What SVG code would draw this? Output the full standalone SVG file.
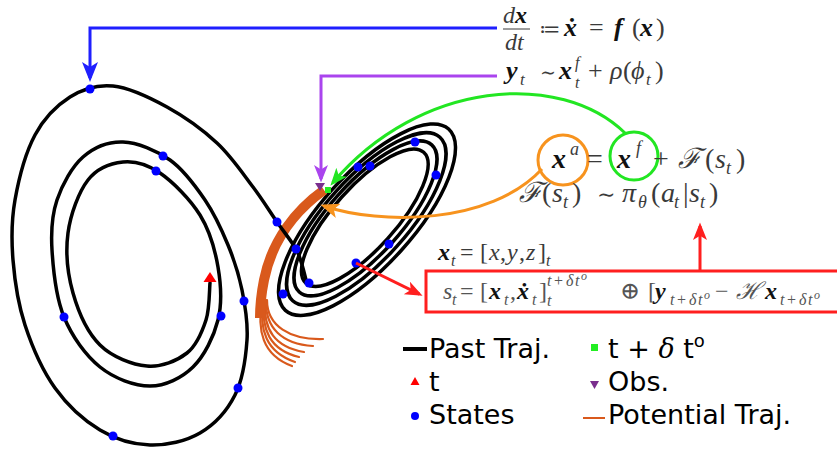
<svg xmlns="http://www.w3.org/2000/svg" width="837" height="451" viewBox="0 0 837 451">
<style>
.traj{fill:none;stroke:#000;stroke-width:3.5;stroke-linecap:round}
.dot{fill:#0000ff}
.orng{fill:none;stroke:#d9591c;stroke-width:2.2;stroke-linecap:round}
.m{font-family:"Liberation Serif","DejaVu Serif",serif;fill:#3a3a3a}
.bi{font-weight:bold;font-style:italic;fill:#111}
.it{font-style:italic}
.lg{font-family:"DejaVu Sans",sans-serif;font-size:27px;fill:#000}
</style>
<defs>
<marker id="ab" viewBox="0 0 20 16" refX="16" refY="8" markerWidth="20" markerHeight="16" markerUnits="userSpaceOnUse" orient="auto"><path d="M0,0 L20,8 L0,16 L5,8 Z" fill="#1f1fff"/></marker>
<marker id="ap" viewBox="0 0 20 16" refX="16" refY="8" markerWidth="18" markerHeight="14" markerUnits="userSpaceOnUse" orient="auto"><path d="M0,0 L20,8 L0,16 L5,8 Z" fill="#aa44ee"/></marker>
<marker id="ag" viewBox="0 0 20 16" refX="16" refY="8" markerWidth="18" markerHeight="14" markerUnits="userSpaceOnUse" orient="auto"><path d="M0,0 L20,8 L0,16 L5,8 Z" fill="#22e622"/></marker>
<marker id="ao" viewBox="0 0 20 16" refX="16" refY="8" markerWidth="19" markerHeight="15" markerUnits="userSpaceOnUse" orient="auto"><path d="M0,0 L20,8 L0,16 L5,8 Z" fill="#f7931e"/></marker>
<marker id="ar" viewBox="0 0 20 16" refX="16" refY="8" markerWidth="19" markerHeight="14" markerUnits="userSpaceOnUse" orient="auto"><path d="M0,0 L20,8 L0,16 L5,8 Z" fill="#ff1f1f"/></marker>
</defs>

<g id="attractor-right">
<ellipse class="traj" cx="367" cy="219.7" rx="122" ry="46" transform="rotate(-48 367 219.7)"/>
<ellipse class="traj" cx="366.3" cy="219" rx="110" ry="41" transform="rotate(-48 366.3 219)"/>
<ellipse class="traj" cx="365.5" cy="218.4" rx="99" ry="36" transform="rotate(-48 365.5 218.4)"/>
<ellipse class="traj" cx="364.8" cy="217.7" rx="88" ry="31" transform="rotate(-48 364.8 217.7)"/>
</g>

<g id="potential">
<path class="orng" d="M262,300 C257,330 262,355 292,366"/>
<path class="orng" d="M263,300 C259,330 266,352 295,362"/>
<path class="orng" d="M264,300 C261,330 270,350 299,357"/>
<path class="orng" d="M265,300 C263,330 275,347 304,352"/>
<path class="orng" d="M266,300 C265,328 282,344 313,346"/>
<path class="orng" d="M267,300 C267,326 290,340 323,339"/>
<path d="M324,190 C296,210 272,240 264,280 C261,295 260,306 260,318" fill="none" stroke="#d9591c" stroke-width="10"/>
</g>

<g id="attractor-left">
<path class="traj" d="M306,280 C304,272 300.7,257 296,249 C291.3,241 284.2,232.3 277,222 C269.8,211.7 263,200.2 253,187 C243,173.8 231.3,156.3 217,143 C202.7,129.7 184.3,116.5 167,107 C149.7,97.5 129.2,87.7 113,86 C96.8,84.3 83,88.8 70,97 C57,105.2 44.2,117.8 35,135 C25.8,152.2 18.7,179.2 15,200 C11.3,220.8 11.3,239.2 13,260 C14.7,280.8 18,303.7 25,325 C32,346.3 42.5,370.5 55,388 C67.5,405.5 84.2,420.5 100,430 C115.8,439.5 133.3,444.5 150,445 C166.7,445.5 185.8,441.3 200,433 C214.2,424.7 227.2,410.5 235,395 C242.8,379.5 245.8,357.5 247,340 C248.2,322.5 245.2,305.8 242,290 C238.8,274.2 234.2,260 228,245 C221.8,230 214.7,214.2 205,200 C195.3,185.8 183.7,169.7 170,160 C156.3,150.3 137.5,142.5 123,142 C108.5,141.5 94,147.3 83,157 C72,166.7 62.2,184.5 57,200 C51.8,215.5 50.8,230.5 52,250 C53.2,269.5 56,297.5 64,317 C72,336.5 85.7,355.5 100,367 C114.3,378.5 134.5,386 150,386 C165.5,386 181.7,378 193,367 C204.3,356 213.8,336.7 218,320 C222.2,303.3 221,284.5 218,267 C215,249.5 209.7,230.7 200,215 C190.3,199.3 172.8,181.8 160,173 C147.2,164.2 135,160.8 123,162 C111,163.2 97.2,168.2 88,180 C78.8,191.8 70.5,214.2 68,233 C65.5,251.8 67.7,274.3 73,293 C78.3,311.7 87.7,332.8 100,345 C112.3,357.2 132.5,364.7 147,366 C161.5,367.3 177.2,360.7 187,353 C196.8,345.3 202.2,331.7 206,320 C209.8,308.3 209.3,289.2 210,283"/>
</g>

<g id="states">
<circle class="dot" cx="90" cy="89" r="4.5"/>
<circle class="dot" cx="277" cy="222" r="4.5"/>
<circle class="dot" cx="163" cy="156" r="4.5"/>
<circle class="dot" cx="156" cy="171" r="4.5"/>
<circle class="dot" cx="244" cy="301" r="4.5"/>
<circle class="dot" cx="221" cy="316" r="4.5"/>
<circle class="dot" cx="64" cy="317" r="4.5"/>
<circle class="dot" cx="238" cy="388" r="4.5"/>
<circle class="dot" cx="113" cy="436" r="4.5"/>
<circle class="dot" cx="296" cy="249" r="4.5"/>
<circle class="dot" cx="415" cy="142" r="4.5"/>
<circle class="dot" cx="436" cy="175" r="4.5"/>
<circle class="dot" cx="358" cy="167" r="4.5"/>
<circle class="dot" cx="370" cy="166" r="4.5"/>
<circle class="dot" cx="389" cy="244" r="4.5"/>
<circle class="dot" cx="356" cy="263" r="4.5"/>
<circle class="dot" cx="309" cy="283" r="4.5"/>
<circle class="dot" cx="283" cy="294" r="4.5"/>
</g>

<g id="markers">
<polygon points="210,272 203.5,282 216.5,282" fill="#ff0000"/>
<polygon points="315,183 325,183 320,191" fill="#7a2e8e"/>
<rect x="325" y="187" width="6" height="6" fill="#22ee22"/>
</g>

<g id="connectors" fill="none" stroke-width="3">
<path d="M497,28 H90 V78" stroke="#1f1fff" marker-end="url(#ab)"/>
<path d="M497,76 H321 V179" stroke="#aa44ee" marker-end="url(#ap)"/>
<path d="M625,133 C560,70 420,80 332.6,183" stroke="#22e622" marker-end="url(#ag)"/>
<path d="M542,169 C490,225 380,225 324,206" stroke="#f7931e" marker-end="url(#ao)"/>
<path d="M700,271 V226" stroke="#ff1f1f" marker-end="url(#ar)"/>
<path d="M356,263 L419.4,294.2" stroke="#ff1f1f" marker-end="url(#ar)"/>
</g>

<g id="eq-dynamics" class="m" font-size="26">
<text x="503" y="23" font-size="24"><tspan class="it">d</tspan><tspan class="bi">x</tspan></text>
<line x1="503" y1="29" x2="530" y2="29" stroke="#3a3a3a" stroke-width="1"/>
<text x="505" y="50" class="it" font-size="24">dt</text>
<text y="36"><tspan x="539" font-size="21">≔</tspan><tspan x="564" class="bi">ẋ</tspan><tspan x="589">=</tspan><tspan x="614" class="bi">f</tspan><tspan x="632">(</tspan><tspan x="640" class="bi">x</tspan><tspan x="656">)</tspan></text>
</g>

<g id="eq-obs" class="m" font-size="26">
<text y="79"><tspan x="506" class="bi">y</tspan><tspan x="520" y="85" class="it" font-size="17">t</tspan><tspan x="540" y="79" font-size="19">∼</tspan><tspan x="559" class="bi">x</tspan><tspan x="575" y="68" class="it" font-size="16">f</tspan><tspan x="575" y="88" class="it" font-size="16">t</tspan><tspan x="588" y="79">+</tspan><tspan x="610" class="it">ρ</tspan><tspan x="623">(</tspan><tspan x="631" class="it">ϕ</tspan><tspan x="646" y="85" class="it" font-size="17">t</tspan><tspan x="655" y="79">)</tspan></text>
</g>

<g id="eq-analysis" class="m" font-size="28">
<circle cx="563" cy="160" r="25" fill="none" stroke="#f7931e" stroke-width="3"/>
<circle cx="634" cy="156" r="24" fill="none" stroke="#22e622" stroke-width="3"/>
<text y="168"><tspan x="552" class="bi">x</tspan><tspan x="570" y="155" class="it" font-size="18">a</tspan><tspan x="587" y="168">=</tspan><tspan x="617" class="bi">x</tspan><tspan x="636" y="154" class="it" font-size="18">f</tspan><tspan x="653" y="168">+</tspan><tspan x="678" class="it">ℱ</tspan><tspan x="705">(</tspan><tspan x="715" class="it">s</tspan><tspan x="726" y="174" class="it" font-size="18">t</tspan><tspan x="736" y="168">)</tspan></text>
<text y="202"><tspan x="519" class="it">ℱ</tspan><tspan x="542">(</tspan><tspan x="552" class="it">s</tspan><tspan x="563" y="208" class="it" font-size="18">t</tspan><tspan x="572" y="202">)</tspan><tspan x="597" font-size="22">∼</tspan><tspan x="622" class="it">π</tspan><tspan x="638" y="208" class="it" font-size="18">θ</tspan><tspan x="651" y="202">(</tspan><tspan x="661" class="it">a</tspan><tspan x="674" y="208" class="it" font-size="18">t</tspan><tspan x="683" y="202">|</tspan><tspan x="689" class="it">s</tspan><tspan x="700" y="208" class="it" font-size="18">t</tspan><tspan x="709" y="202">)</tspan></text>
</g>

<g id="eq-state" class="m" font-size="24">
<text y="260"><tspan x="438" class="bi">x</tspan><tspan x="451" y="266" class="it" font-size="16">t</tspan><tspan x="460" y="260">=</tspan><tspan x="480">[</tspan><tspan x="489" class="it">x</tspan><tspan x="500">,</tspan><tspan x="507" class="it">y</tspan><tspan x="519">,</tspan><tspan x="526" class="it">z</tspan><tspan x="538">]</tspan><tspan x="546" y="266" class="it" font-size="16">t</tspan></text>
<rect x="426" y="271" width="430" height="41" fill="none" stroke="#ff1f1f" stroke-width="3"/>
<text y="299" fill="#555"><tspan x="443" class="it">s</tspan><tspan x="452" y="305" class="it" font-size="16">t</tspan><tspan x="460" y="299">=</tspan><tspan x="480">[</tspan><tspan x="489" class="bi">x</tspan><tspan x="504" y="305" class="it" font-size="16">t</tspan><tspan x="510" y="299">,</tspan><tspan x="517" class="bi">ẋ</tspan><tspan x="532" y="305" class="it" font-size="16">t</tspan><tspan x="539" y="299">]</tspan><tspan x="547" y="306" class="it" font-size="16">t</tspan><tspan x="547" y="286" class="it" font-size="16">t</tspan><tspan x="554" y="286" font-size="16">+</tspan><tspan x="566" y="286" class="it" font-size="16">δ</tspan><tspan x="575" y="286" class="it" font-size="16">t</tspan><tspan x="581" y="280" class="it" font-size="12">o</tspan><tspan x="620" y="299">⊕</tspan><tspan x="648">[</tspan><tspan x="655" class="bi">y</tspan><tspan x="670" y="305" class="it" font-size="16">t</tspan><tspan x="677" y="305" font-size="16">+</tspan><tspan x="689" y="305" class="it" font-size="16">δ</tspan><tspan x="698" y="305" class="it" font-size="16">t</tspan><tspan x="704" y="299" class="it" font-size="12">o</tspan><tspan x="715" y="299">−</tspan><tspan x="736" class="it">ℋ</tspan><tspan x="765" class="bi">x</tspan><tspan x="780" y="305" class="it" font-size="16">t</tspan><tspan x="787" y="305" font-size="16">+</tspan><tspan x="799" y="305" class="it" font-size="16">δ</tspan><tspan x="808" y="305" class="it" font-size="16">t</tspan><tspan x="814" y="299" class="it" font-size="12">o</tspan></text>
</g>

<g id="legend">
<line x1="403" y1="349" x2="427" y2="349" stroke="#000" stroke-width="4"/>
<text class="lg" x="429" y="358">Past Traj.</text>
<polygon points="415,377 410.5,385 419.5,385" fill="#ff0000"/>
<text class="lg" x="429" y="391">t</text>
<circle cx="415" cy="416" r="4" fill="#0000ff"/>
<text class="lg" x="429" y="424">States</text>
<rect x="591" y="344" width="7" height="7" fill="#22ee22"/>
<text class="lg" x="608" y="358">t + <tspan font-family="DejaVu Serif" font-style="italic">δ</tspan> t<tspan font-size="18" dy="-11">o</tspan></text>
<polygon points="590,381 599,381 594.5,389" fill="#7a2e8e"/>
<text class="lg" x="608" y="391">Obs.</text>
<line x1="583" y1="418" x2="605" y2="418" stroke="#d9591c" stroke-width="2"/>
<text class="lg" x="608" y="424">Potential Traj.</text>
</g>
</svg>
